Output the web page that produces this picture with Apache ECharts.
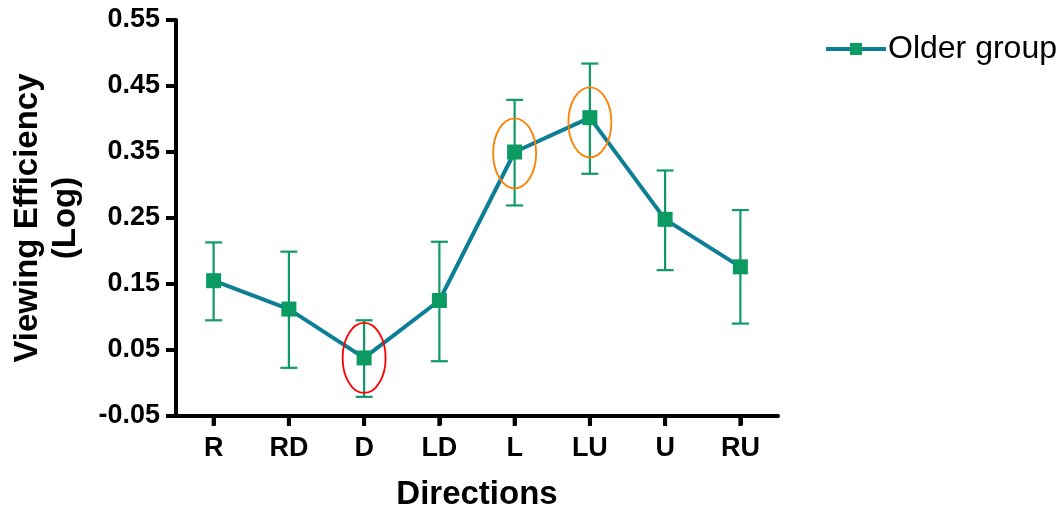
<!DOCTYPE html>
<html><head><meta charset="utf-8">
<script src="https://cdn.jsdelivr.net/npm/echarts@6/dist/echarts.min.js"></script>
<style>html,body{margin:0;padding:0;background:#fff}#c{width:1062px;height:513px}</style>
</head><body><div id="c"></div>
<script>
const categories = ['R','RD','D','LD','L','LU','U','RU'];
const means = [0.155, 0.112, 0.038, 0.125, 0.350, 0.402, 0.248, 0.176];
const upper = [0.213, 0.199, 0.095, 0.214, 0.429, 0.484, 0.322, 0.262];
const lower = [0.095, 0.023, -0.021, 0.033, 0.269, 0.317, 0.171, 0.090];
const yTicks = [-0.05, 0.05, 0.15, 0.25, 0.35, 0.45, 0.55];
const highlightCats = ['D', 'L', 'LU'];
const highlightVals = [0.038, 0.348, 0.395];
const highlightColors = ['#FF0000', '#FF8000', '#FF8000'];

const OFFSET = -yTicks[0]; // shift so axis min is 0
const sh = v => v + OFFSET;

const chart = echarts.init(document.getElementById('c'));
const FONT = 'Liberation Sans';
const TICK_LEN = 9;
chart.setOption({
  animation: false,
  textStyle: {fontFamily: FONT},
  grid: {left: 176, right: 284, top: 20, bottom: 97, outerBoundsMode: 'none'},
  legend: {
    data: ['Older group'], left: 819, top: 28, itemWidth: 60, itemHeight: 15, itemGap: 8,
    lineStyle: {width: 4},
    textStyle: {fontSize: 32, color: '#000', fontFamily: FONT, padding: [0,0,0,-3]}
  },
  xAxis: {
    type: 'category', data: categories, boundaryGap: true,
    axisLine: {show: true, lineStyle: {color: '#000', width: 4}},
    axisTick: {show: true, alignWithLabel: true, length: TICK_LEN, lineStyle: {width: 4, color: '#000'}},
    axisLabel: {fontSize: 27, fontWeight: 'bold', color: '#000', margin: 19},
    name: 'Directions', nameLocation: 'middle', nameGap: 62,
    nameTextStyle: {fontSize: 33, fontWeight: 'bold', color: '#000'}
  },
  yAxis: {
    type: 'value', min: 0, max: sh(yTicks[yTicks.length-1]), interval: 0.1,
    axisLine: {show: true, lineStyle: {color: '#000', width: 4}},
    axisTick: {show: true, length: TICK_LEN, lineStyle: {width: 4, color: '#000'}},
    splitLine: {show: false},
    axisLabel: {fontSize: 27, fontWeight: 'bold', color: '#000', margin: 16,
      formatter: v => (v - OFFSET).toFixed(2)},
    name: 'Viewing Efficiency\n(Log)', nameLocation: 'middle', nameGap: 91, nameRotate: 90,
    nameTextStyle: {fontSize: 33, fontWeight: 'bold', color: '#000', lineHeight: 38}
  },
  series: [
    {
      type: 'custom', name: 'xticks', z: 5, silent: true, clip: false,
      data: categories.map((c, i) => [i, 0]),
      renderItem: (params, api) => {
        const p = api.coord([api.value(0), 0]);
        return {type: 'line', shape: {x1: p[0], y1: p[1], x2: p[0], y2: p[1] + TICK_LEN + 1},
          style: {stroke: '#000', lineWidth: 4}};
      }
    },
    {
      type: 'custom', name: 'yticks', z: 5, silent: true, clip: false,
      data: yTicks.map(v => [0, sh(v)]),
      renderItem: (params, api) => {
        const p = api.coord([0, api.value(1)]);
        const x0 = params.coordSys.x;
        return {type: 'line', shape: {x1: x0 - TICK_LEN - 1, y1: p[1], x2: x0, y2: p[1]},
          style: {stroke: '#000', lineWidth: 4}};
      }
    },
    {
      type: 'custom', name: 'err', z: 1, silent: true,
      data: categories.map((c, i) => [i, sh(lower[i]), sh(upper[i])]),
      renderItem: (params, api) => {
        const lo = api.coord([api.value(0), api.value(1)]);
        const hi = api.coord([api.value(0), api.value(2)]);
        const hw = 8.5;
        const st = {stroke: '#10996A', lineWidth: 2.2};
        return {type: 'group', children: [
          {type: 'line', shape: {x1: lo[0], y1: lo[1], x2: hi[0], y2: hi[1]}, style: st},
          {type: 'line', shape: {x1: lo[0]-hw, y1: lo[1], x2: lo[0]+hw, y2: lo[1]}, style: st},
          {type: 'line', shape: {x1: hi[0]-hw, y1: hi[1], x2: hi[0]+hw, y2: hi[1]}, style: st}
        ]};
      }
    },
    {
      type: 'line', name: 'Older group', z: 3,
      data: means.map(sh),
      symbol: 'rect', symbolSize: 15,
      lineStyle: {color: '#0C7F96', width: 4},
      itemStyle: {color: '#0A9A62'}
    },
    {
      type: 'custom', name: 'hl', z: 4, silent: true,
      data: highlightCats.map((c, i) => [categories.indexOf(c), sh(highlightVals[i]), i]),
      renderItem: (params, api) => {
        const p = api.coord([api.value(0), api.value(1)]);
        const idx = api.value(2);
        return {type: 'ellipse', shape: {cx: p[0], cy: p[1], rx: 21.5, ry: 35},
          style: {fill: 'none', stroke: highlightColors[idx], lineWidth: 1.8}};
      }
    }
  ]
});
</script></body></html>
